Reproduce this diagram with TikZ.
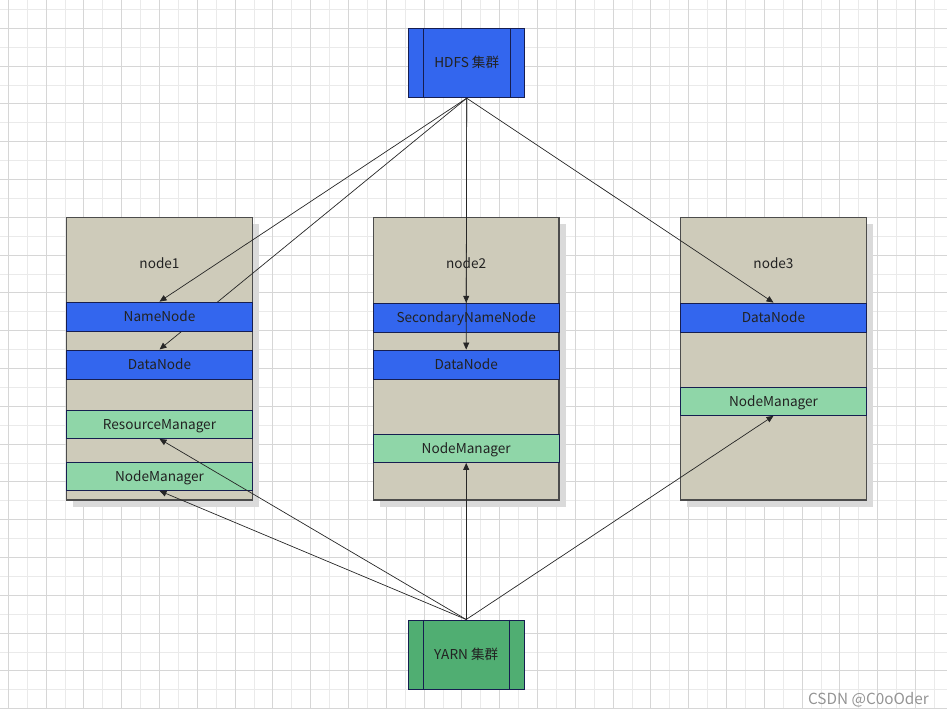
\documentclass[tikz,border=0pt]{standalone}
\usepackage{fontspec}
\setmainfont{Noto Sans CJK SC}
\usetikzlibrary{arrows.meta}
\pgfdeclarelayer{back}
\pgfdeclarelayer{mid}
\pgfsetlayers{back,mid,main}
\definecolor{hblue}{RGB}{51,102,238}
\definecolor{ygreen}{RGB}{80,174,114}
\definecolor{lgreen}{RGB}{143,214,168}
\definecolor{beige}{RGB}{206,203,186}
\definecolor{navy}{RGB}{22,30,80}
\definecolor{txt}{RGB}{34,34,34}
\definecolor{gmajor}{RGB}{214,214,214}
\definecolor{gminor}{RGB}{234,234,234}
\definecolor{shadowc}{RGB}{218,218,218}
\tikzset{
  every node/.style={font=\fontsize{13.6}{15}\selectfont, text=txt, text height=10pt, text depth=0pt},
  hostbox/.style={draw=black!70, line width=1.3pt, fill=beige, minimum width=185.6pt, minimum height=282.7pt, inner sep=0pt},
  bluebar/.style={draw=navy, line width=0.8pt, fill=hblue, minimum width=185.6pt, minimum height=29pt, inner sep=0pt},
  greenbar/.style={draw=navy, line width=0.8pt, fill=lgreen, minimum width=185.6pt, minimum height=28pt, inner sep=0pt},
  cluster/.style={draw=navy, line width=1pt, minimum width=116pt, minimum height=69.4pt, inner sep=0pt},
  conn/.style={draw=black!85, line width=0.7pt, -{Triangle[length=7pt,width=6pt]}},
  shadowbox/.style={fill=shadowc, draw=none, minimum width=185.6pt, minimum height=282.7pt, inner sep=0pt},
  title/.style={inner sep=0pt}
}
\begin{document}
\begin{tikzpicture}[x=1pt,y=-1pt]
\useasboundingbox (0,0) rectangle (947,714);
\begin{pgfonlayer}{back}
  % grid
  \foreach \k in {0,...,49}{
    \pgfmathsetmacro{\xx}{8.3+18.9*\k}
    \ifodd\k
      \draw[gminor, line width=0.8pt] (\xx,0) -- (\xx,708.7);
    \fi
  }
  \foreach \k in {0,...,37}{
    \pgfmathsetmacro{\yy}{9.4+18.9*\k}
    \ifodd\k\else
      \draw[gminor, line width=0.8pt] (0,\yy) -- (947,\yy);
    \fi
  }
  \foreach \k in {0,...,49}{
    \pgfmathsetmacro{\xx}{8.3+18.9*\k}
    \ifodd\k\else
      \draw[gmajor, line width=0.9pt] (\xx,0) -- (\xx,708.7);
    \fi
  }
  \foreach \k in {0,...,37}{
    \pgfmathsetmacro{\yy}{9.4+18.9*\k}
    \ifodd\k
      \draw[gmajor, line width=0.9pt] (0,\yy) -- (947,\yy);
    \fi
  }
  % shadows
  \node[shadowbox] (s1) at (166,365.2) {};
  \node[shadowbox] (s2) at (472.7,365.2) {};
  \node[shadowbox] (s3) at (780,365.2) {};
  % host boxes
  \node[hostbox] (host1) at (159.5,358.7) {};
  \node[hostbox] (host2) at (466.2,358.7) {};
  \node[hostbox] (host3) at (773.5,358.7) {};
  \node[title] (t1) at (159.5,263.5) {node1};
  \node[title] (t2) at (466.2,263.5) {node2};
  \node[title] (t3) at (773.5,263.5) {node3};
\end{pgfonlayer}

% clusters
\node[cluster, fill=hblue] (hdfs) at (466.7,63) {HDFS 集群};
\draw[navy, line width=1pt] ([xshift=15pt]hdfs.north west) -- ([xshift=15pt]hdfs.south west);
\draw[navy, line width=1pt] ([xshift=-15pt]hdfs.north east) -- ([xshift=-15pt]hdfs.south east);
\node[cluster, fill=ygreen] (yarn) at (466.2,654.7) {YARN 集群};
\draw[navy, line width=1pt] ([xshift=15.5pt]yarn.north west) -- ([xshift=15.5pt]yarn.south west);
\draw[navy, line width=1pt] ([xshift=-15pt]yarn.north east) -- ([xshift=-15pt]yarn.south east);

% node1 bars
\node[bluebar] (nn1) at (159.5,316.5) {NameNode};
\node[bluebar] (dn1) at (159.5,364.4) {DataNode};
\node[greenbar] (rm1) at (159.5,424.5) {ResourceManager};
\node[greenbar] (nm1) at (159.5,476.4) {NodeManager};
% node2 bars
\node[bluebar] (snn2) at (466.2,317.7) {SecondaryNameNode};
\node[bluebar] (dn2) at (466.2,364.5) {DataNode};
\node[greenbar] (nm2) at (466.2,448.5) {NodeManager};
% node3 bars
\node[bluebar] (dn3) at (773.5,317.5) {DataNode};
\node[greenbar] (nm3) at (773.5,401.4) {NodeManager};

% connectors
\begin{pgfonlayer}{mid}
  \draw[conn] (hdfs.south) -- (dn1.north);
\end{pgfonlayer}
\draw[conn] (hdfs.south) -- (nn1.north);
\draw[conn] (hdfs.south) -- (snn2.north);
\draw[conn] (hdfs.south) -- (dn2.north);
\draw[conn] (hdfs.south) -- (dn3.north);
\draw[conn] (yarn.north) -- (rm1.south);
\draw[conn] (yarn.north) -- (nm1.south);
\draw[conn] (yarn.north) -- (nm2.south);
\draw[conn] (yarn.north) -- (nm3.south);

% watermark
\node[font=\fontsize{15.3}{17}\selectfont, text=black!42, inner sep=0pt, text height=11pt] (wm) at (868.5,699) {CSDN @C0oOder};
\end{tikzpicture}
\end{document}
